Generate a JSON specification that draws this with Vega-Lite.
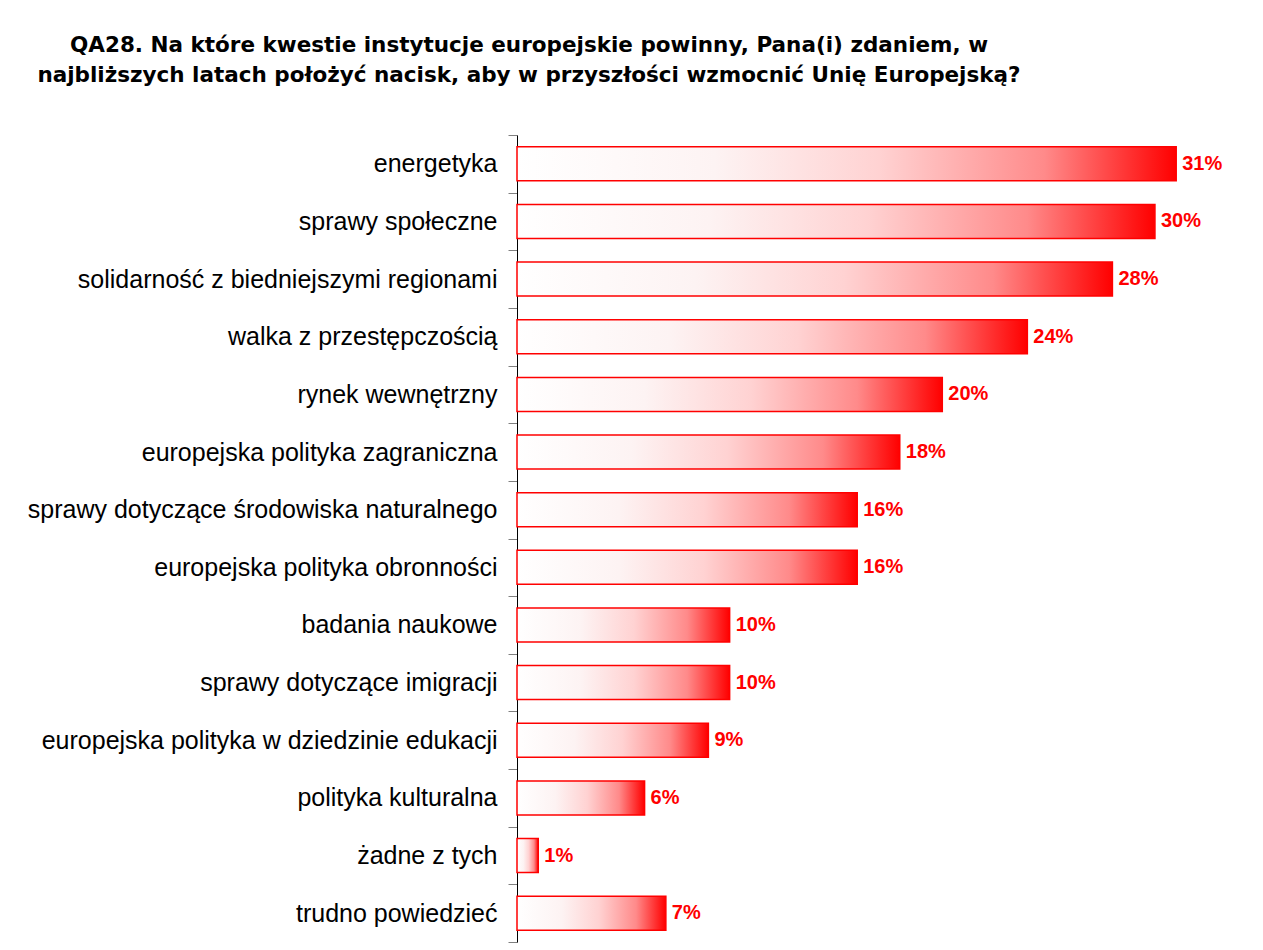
{
  "$schema": "https://vega.github.io/schema/vega-lite/v6.json",
  "width": 723,
  "height": 807,
  "autosize": "none",
  "padding": {"left": 517, "top": 135, "right": 23, "bottom": 8},
  "background": "white",
  "title": {
    "text": ["QA28. Na które kwestie instytucje europejskie powinny, Pana(i) zdaniem, w", "najbliższych latach położyć nacisk, aby w przyszłości wzmocnić Unię Europejską?"],
    "font": "DejaVu Sans",
    "fontWeight": "bold",
    "fontSize": 21.5,
    "color": "#000000",
    "anchor": "start",
    "align": "center",
    "frame": "group",
    "dx": 12,
    "offset": 37,
    "lineHeight": 30
  },
  "data": {
    "values": [
      {"kwestia": "energetyka", "value": 31, "txt": "31%"},
      {"kwestia": "sprawy społeczne", "value": 30, "txt": "30%"},
      {"kwestia": "solidarność z biedniejszymi regionami", "value": 28, "txt": "28%"},
      {"kwestia": "walka z przestępczością", "value": 24, "txt": "24%"},
      {"kwestia": "rynek wewnętrzny", "value": 20, "txt": "20%"},
      {"kwestia": "europejska polityka zagraniczna", "value": 18, "txt": "18%"},
      {"kwestia": "sprawy dotyczące środowiska naturalnego", "value": 16, "txt": "16%"},
      {"kwestia": "europejska polityka obronności", "value": 16, "txt": "16%"},
      {"kwestia": "badania naukowe", "value": 10, "txt": "10%"},
      {"kwestia": "sprawy dotyczące imigracji", "value": 10, "txt": "10%"},
      {"kwestia": "europejska polityka w dziedzinie edukacji", "value": 9, "txt": "9%"},
      {"kwestia": "polityka kulturalna", "value": 6, "txt": "6%"},
      {"kwestia": "żadne z tych", "value": 1, "txt": "1%"},
      {"kwestia": "trudno powiedzieć", "value": 7, "txt": "7%"}
    ]
  },
  "encoding": {
    "y": {
      "field": "kwestia",
      "type": "nominal",
      "sort": null,
      "scale": {"paddingInner": 0, "paddingOuter": 0},
      "axis": {
        "title": null,
        "labelFont": "Liberation Sans",
        "labelFontSize": 25,
        "labelColor": "#000000",
        "labelPadding": 11,
        "labelLimit": 600,
        "tickSize": 9,
        "tickColor": "#808080",
        "tickWidth": 1,
        "domainColor": "#000000",
        "domainWidth": 1,
        "tickBand": "extent",
        "grid": false
      }
    },
    "x": {
      "field": "value",
      "type": "quantitative",
      "scale": {"domain": [0, 34], "nice": false},
      "axis": null
    }
  },
  "layer": [
    {
      "mark": {
        "type": "bar",
        "size": 34,
        "fill": {
          "gradient": "linear",
          "x1": 0, "y1": 0, "x2": 1, "y2": 0,
          "stops": [
            {"offset": 0, "color": "#ffffff"},
            {"offset": 0.3, "color": "#fdf3f3"},
            {"offset": 0.55, "color": "#ffd2d2"},
            {"offset": 0.8, "color": "#ff8a8a"},
            {"offset": 1, "color": "#ff0000"}
          ]
        },
        "stroke": "#ff0000",
        "strokeWidth": 1.5
      }
    },
    {
      "mark": {
        "type": "text",
        "align": "left",
        "baseline": "middle",
        "dx": 6,
        "font": "Liberation Sans",
        "fontWeight": "bold",
        "fontSize": 20,
        "fill": "#ff0000"
      },
      "encoding": {"text": {"field": "txt", "type": "nominal"}}
    }
  ],
  "config": {"view": {"stroke": null}}
}
